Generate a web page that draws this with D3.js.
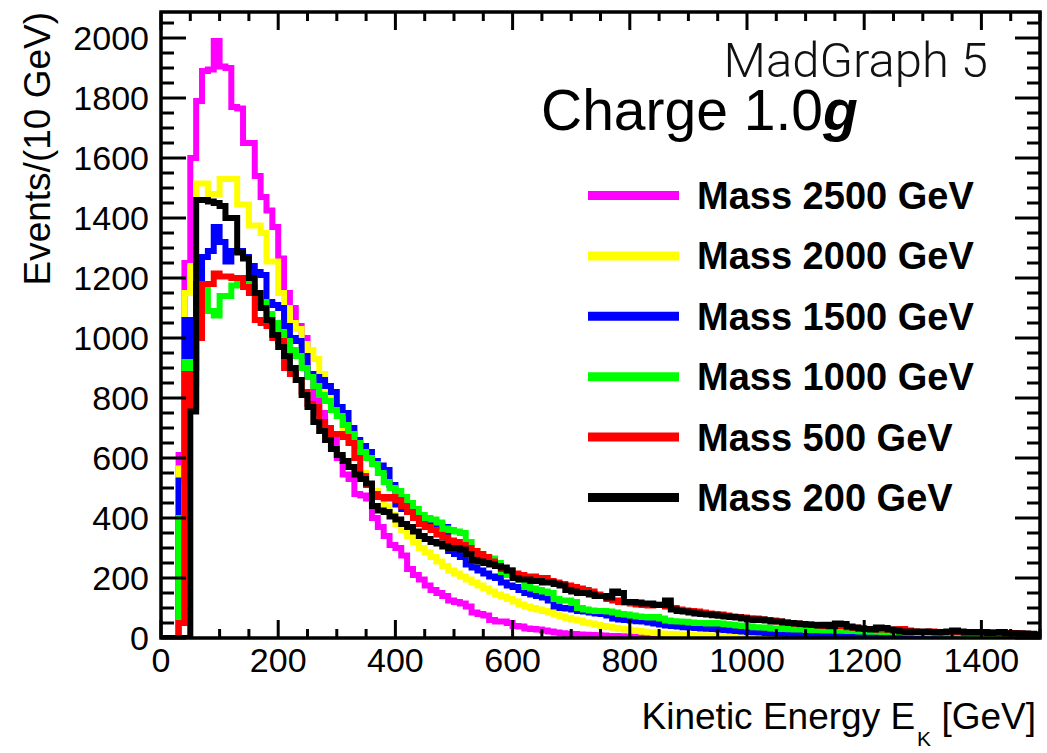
<!DOCTYPE html>
<html><head><meta charset="utf-8">
<script src="https://cdn.jsdelivr.net/npm/d3@7"></script>
<style>body{margin:0;background:#fff}</style>
</head><body>
<svg id="c" width="1047" height="753"></svg>
<script>
// ---------------- data ----------------
const binWidth = 10;          // GeV per bin, first bin starts at 0
const xTicks = [0, 200, 400, 600, 800, 1000, 1200, 1400];
const yTicks = [0, 200, 400, 600, 800, 1000, 1200, 1400, 1600, 1800, 2000];
const seriesNames = ["Mass 2500 GeV", "Mass 2000 GeV", "Mass 1500 GeV", "Mass 1000 GeV", "Mass 500 GeV", "Mass 200 GeV"];

const m2500 = [
  0,0,0,610,1250,1600,1790,1890,1895,1990,
  1905,1900,1770,1765,1650,1650,1540,1470,1425,1370,
  1265,1150,1100,1040,1000,870,800,750,700,660,
  600,545,530,480,475,465,400,370,340,310,
  300,275,230,210,195,175,160,150,140,125,
  120,115,105,85,80,75,60,55,55,50,
  40,38,32,30,28,25,22,18,16,14,
  13,12,11,10,9,8,7,7,6,5,
  5,4,4,4,3,3,3,2,2,2,
  2,2,1,1,1,1,1,1,1,1,
  1,1,0,1,0,0,0,0,0,0,
  0,0,0,0,0,0,0,0,0,0,
  0,0,0,0,0,0,0,0,0,0,
  0,0,0,0,0,0,0,0,0,0,
  0,0,0,0,0,0,0,0,0,0];
const m2000 = [
  0,0,0,565,1150,1240,1515,1515,1480,1480,
  1530,1530,1530,1445,1445,1375,1375,1350,1255,1255,
  1150,1100,1050,1030,980,960,930,880,820,780,
  740,700,650,600,550,510,490,470,440,410,
  380,360,340,320,300,285,270,255,240,225,
  215,205,195,185,175,165,155,145,138,130,
  122,112,105,100,95,90,85,78,72,67,
  62,58,52,48,44,40,37,34,31,28,
  26,23,21,19,17,15,14,13,12,11,
  10,9,9,8,8,7,7,6,6,6,
  5,5,5,5,5,5,5,5,5,4,
  4,4,4,4,4,3,3,3,3,3,
  2,2,2,2,2,2,2,2,1,1,
  1,1,1,1,1,1,1,1,1,1,
  1,1,1,0,0,0,0,0,0,0];
const m1500 = [
  0,0,0,525,1060,900,1180,1270,1290,1370,
  1320,1255,1290,1290,1270,1240,1220,1210,1120,1110,
  1100,1040,1000,990,940,880,870,860,840,820,
  770,750,700,660,640,620,590,575,560,510,
  445,430,420,410,400,390,385,375,370,290,
  280,270,245,235,225,215,205,200,185,175,
  170,160,150,145,140,135,125,105,100,98,
  95,90,88,85,82,80,75,65,62,60,
  58,56,55,52,48,45,42,40,38,36,
  35,33,32,31,30,28,27,25,23,22,
  20,19,18,17,16,15,14,13,12,14,
  12,18,11,10,10,9,9,8,8,7,
  7,7,6,6,6,5,5,5,5,4,
  4,4,4,4,3,3,3,3,3,3,
  3,3,2,2,2,2,2,2,2,2];
const m1000 = [
  0,0,0,400,920,850,1000,1165,1090,1075,
  1140,1140,1175,1185,1180,1170,1150,1120,1080,1050,
  1020,990,960,940,900,870,840,810,790,760,
  740,710,680,650,620,600,580,550,520,500,
  490,470,450,430,410,400,395,385,365,360,
  355,350,320,290,280,270,265,250,220,210,
  200,195,170,165,160,155,150,130,125,125,
  120,100,95,92,90,90,88,85,80,78,
  75,72,70,68,70,65,58,56,55,54,
  52,50,50,48,50,48,46,44,42,40,
  38,36,35,34,32,30,30,29,28,28,
  27,26,26,25,25,24,24,23,23,22,
  22,21,21,20,20,19,19,18,18,17,
  17,16,16,15,15,15,14,14,13,13,
  13,12,12,12,11,11,11,10,10,10];
const m500 = [
  0,0,0,50,880,770,1000,1180,1180,1215,
  1205,1205,1200,1200,1170,1150,1060,1050,1040,1000,
  990,900,880,860,820,780,770,720,700,680,
  680,670,650,600,540,510,480,470,465,470,
  460,440,420,400,380,370,360,345,335,325,
  320,310,300,290,280,270,255,240,230,225,
  215,210,205,205,200,200,190,185,180,175,
  170,165,160,155,145,140,130,125,120,118,
  115,112,110,108,112,110,105,100,95,92,
  90,88,85,82,80,78,75,72,70,68,
  66,65,62,60,58,55,52,50,48,46,
  45,44,42,40,38,45,40,36,34,32,
  30,30,28,30,28,26,30,25,22,20,
  20,22,20,18,20,22,20,18,18,20,
  18,16,18,16,15,17,15,14,13,12];
const m200 = [
  0,0,0,0,0,755,1460,1460,1455,1450,
  1440,1400,1400,1285,1265,1200,1150,1100,1060,1010,
  970,940,900,860,810,770,720,690,660,630,
  610,590,570,545,530,515,440,425,420,405,
  395,380,370,355,340,330,320,315,305,300,
  300,295,280,260,255,250,245,240,235,225,
  200,195,195,190,190,185,185,180,175,160,
  155,150,150,145,140,140,135,155,150,120,
  120,118,115,115,110,110,125,95,90,88,
  85,82,80,78,76,74,72,70,68,65,
  62,60,62,58,55,55,52,50,48,47,
  45,43,42,44,40,48,47,38,35,32,
  30,28,35,33,28,25,22,20,22,20,
  22,20,18,20,22,25,22,18,20,18,
  20,17,18,20,16,15,16,15,14,12];

const seriesValues = [m2500, m2000, m1500, m1000, m500, m200];

// ---------------- styles / layout ----------------
const seriesColors = ["#ff00ff", "#ffff00", "#0000ff", "#00ff00", "#ff0000", "#000000"];
const FONT = "'Liberation Sans', Arial, Helvetica, sans-serif";
const L = 161, R = 1040, T = 12, B = 638;

const svg = d3.select("#c");
const x = d3.scaleLinear().domain([0, 1500]).range([L, R]);
const y = d3.scaleLinear().domain([0, 2086.7]).range([B, T]);

svg.append("defs").append("clipPath").attr("id", "plotclip")
  .append("rect").attr("x", L).attr("y", T).attr("width", R - L).attr("height", B - T);

function histPath(vals) {
  let d = "M" + x(0) + "," + y(vals[0]);
  vals.forEach((v, i) => {
    if (i > 0) d += "V" + y(v);
    d += "H" + x((i + 1) * binWidth);
  });
  return d;
}

const gH = svg.append("g").attr("clip-path", "url(#plotclip)");
seriesValues.forEach((vals, i) => {
  gH.append("path").attr("d", histPath(vals))
    .attr("fill", "none").attr("stroke", seriesColors[i])
    .attr("stroke-width", 6).attr("stroke-linejoin", "miter").attr("stroke-linecap", "butt");
});

// frame
svg.append("rect").attr("x", L).attr("y", T).attr("width", R - L).attr("height", B - T)
  .attr("fill", "none").attr("stroke", "#000").attr("stroke-width", 3.5);

// ticks
const gT = svg.append("g").attr("stroke", "#000").attr("stroke-width", 3);
const xMinor = d3.range(0, 1501, 50);
xMinor.forEach(v => {
  const major = v % 200 === 0;
  const len = major ? 18 : 9;
  gT.append("line").attr("x1", x(v)).attr("x2", x(v)).attr("y1", B).attr("y2", B - len);
  gT.append("line").attr("x1", x(v)).attr("x2", x(v)).attr("y1", T).attr("y2", T + len);
});
const yMinor = d3.range(0, 2051, 50);
yMinor.forEach(v => {
  const major = v % 200 === 0;
  const len = major ? 25 : 13;
  gT.append("line").attr("y1", y(v)).attr("y2", y(v)).attr("x1", L).attr("x2", L + len);
  gT.append("line").attr("y1", y(v)).attr("y2", y(v)).attr("x1", R).attr("x2", R - len);
});

// tick labels
svg.append("g").selectAll("text").data(yTicks).join("text")
  .attr("x", 149).attr("y", d => y(d) + 12)
  .attr("text-anchor", "end").attr("font-family", FONT).attr("font-size", 34)
  .text(d => d);
svg.append("g").selectAll("text").data(xTicks).join("text")
  .attr("x", d => x(d)).attr("y", 672)
  .attr("text-anchor", "middle").attr("font-family", FONT).attr("font-size", 34)
  .text(d => d);

// axis titles
const xt = svg.append("text").attr("x", 1036).attr("y", 729)
  .attr("text-anchor", "end").attr("font-family", FONT).attr("font-size", 37);
xt.append("tspan").text("Kinetic Energy E");
xt.append("tspan").attr("font-size", 21).attr("dy", 17).attr("dx", 2).text("K");
xt.append("tspan").attr("dy", -17).text(" [GeV]");

svg.append("text").attr("transform", "translate(50," + T + ") rotate(-90)")
  .attr("text-anchor", "end").attr("font-family", FONT).attr("font-size", 37)
  .text("Events/(10 GeV)");

// labels
svg.append("text").attr("x", 988).attr("y", 77).attr("text-anchor", "end")
  .attr("font-family", "Roboto, " + FONT).attr("font-weight", 300).attr("font-size", 49)
  .attr("fill", "#111").text("MadGraph 5");
const ch = svg.append("text").attr("x", 541).attr("y", 130)
  .attr("font-family", FONT).attr("font-size", 57);
ch.append("tspan").text("Charge 1.0");
ch.append("tspan").attr("font-weight", "bold").attr("font-style", "italic").text("g");

// legend
const legG = svg.append("g");
seriesNames.forEach((name, i) => {
  const ly = 195.5 + i * 60.4;
  legG.append("line").attr("x1", 588).attr("x2", 679).attr("y1", ly).attr("y2", ly)
    .attr("stroke", seriesColors[i]).attr("stroke-width", 9);
  legG.append("text").attr("x", 697).attr("y", ly + 13.5)
    .attr("font-family", FONT).attr("font-weight", "bold").attr("font-size", 38)
    .text(name);
});
</script>
</body></html>
